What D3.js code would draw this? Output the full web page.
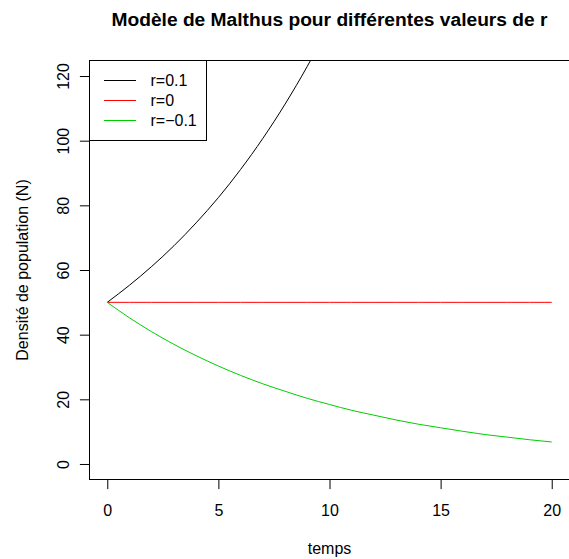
<!DOCTYPE html>
<html><head><meta charset="utf-8">
<script src="https://cdn.jsdelivr.net/npm/d3@7"></script>
<style>
body{margin:0;background:#fff;}
svg{display:block;font-family:"Liberation Sans",Arial,Helvetica,sans-serif;}
</style></head>
<body><svg id="c" width="569" height="559"></svg>
<script>
// Data
const temps = [0,1,2,3,4,5,6,7,8,9,10,11,12,13,14,15,16,17,18,19,20];
const nPos  = [50,55.3,61.1,67.5,74.6,82.4,91.1,100.7,111.3,123.0,135.9]; // r=0.1 (t=0..10, leaves the plot at top)
const nZero = [50,50,50,50,50,50,50,50,50,50,50,50,50,50,50,50,50,50,50,50,50]; // r=0
const nNeg  = [50,45.2,40.9,37.0,33.5,30.3,27.4,24.8,22.5,20.3,18.4,16.6,15.1,13.6,12.3,11.2,10.1,9.1,8.3,7.5,6.8]; // r=-0.1
const seriesNames = ["r=0.1","r=0","r=\u22120.1"];
const seriesColors = ["#000000","#FF0000","#00CD00"];
const xTicks = [0,5,10,15,20];
const yTicks = [0,20,40,60,80,100,120];
const title = "Modèle de Malthus pour différentes valeurs de r";
const xLabel = "temps";
const yLabel = "Densité de population (N)";

const svg = d3.select("#c");
const L = 89.5, R = 569.5, T = 60.5, B = 479.5;
const x = d3.scaleLinear().domain([-0.8, 20.8]).range([L, R]);
const y = d3.scaleLinear().domain([-4.8, 124.8]).range([B, T]);

svg.append("defs").append("clipPath").attr("id","clip")
  .append("rect").attr("x",L).attr("y",T).attr("width",R-L).attr("height",B-T);

const series = [nPos, nZero, nNeg];
const line = d3.line().x(d=>x(d[0])).y(d=>y(d[1])).curve(d3.curveMonotoneX);
const g = svg.append("g").attr("clip-path","url(#clip)");
series.forEach((s,i)=>{
  g.append("path").datum(s.map((v,j)=>[temps[j],v]))
   .attr("d",line).attr("fill","none").attr("stroke",seriesColors[i]).attr("stroke-width",1);
});

// box
svg.append("rect").attr("x",L).attr("y",T).attr("width",R-L).attr("height",B-T)
  .attr("fill","none").attr("stroke","#000").attr("stroke-width",1);

// x axis
const xa = svg.append("g").attr("transform",`translate(0,${B})`)
  .call(d3.axisBottom(x).tickValues(xTicks).tickSize(9.6).tickSizeOuter(0).tickPadding(0).tickFormat(d3.format("d")));
xa.select(".domain").attr("d",`M${x(0)},0H${x(20)}`);
xa.selectAll("text").attr("y",null).attr("dy",null).attr("transform","translate(0,36.5)").style("font-size","16px").attr("fill","#000").attr("font-family",null);
xa.selectAll("line").attr("stroke","#000");

// y axis
const ya = svg.append("g").attr("transform",`translate(${L},0)`)
  .call(d3.axisLeft(y).tickValues(yTicks).tickSize(9.6).tickSizeOuter(0).tickPadding(0).tickFormat(d3.format("d")));
ya.select(".domain").attr("d",`M0,${y(0)}V${y(120)}`);
ya.selectAll(".tick text").attr("x",null).attr("dy",null).attr("text-anchor","middle")
  .attr("transform","translate(-20.3,0) rotate(-90)").style("font-size","16px").attr("fill","#000").attr("font-family",null);
ya.selectAll("line").attr("stroke","#000");

// labels
svg.append("text").attr("x",(L+R)/2).attr("y",25.5).attr("text-anchor","middle")
  .style("font-size","19.2px").style("font-weight","bold").text(title);
svg.append("text").attr("x",(L+R)/2).attr("y",554).attr("text-anchor","middle")
  .style("font-size","16px").text(xLabel);
svg.append("text").attr("transform",`translate(28,${(T+B)/2}) rotate(-90)`).attr("text-anchor","middle")
  .style("font-size","16px").text(yLabel);

// legend
const lg = svg.append("g");
lg.append("rect").attr("x",L).attr("y",T).attr("width",117).attr("height",80)
  .attr("fill","#fff").attr("stroke","#000");
const rowY = [80.5,100.5,120.5];
seriesNames.forEach((n,i)=>{
  lg.append("line").attr("x1",104).attr("x2",136).attr("y1",rowY[i]).attr("y2",rowY[i])
    .attr("stroke",seriesColors[i]);
  lg.append("text").attr("x",150.5).attr("y",rowY[i]+5.8).style("font-size","16px").text(n);
});
</script></body></html>
